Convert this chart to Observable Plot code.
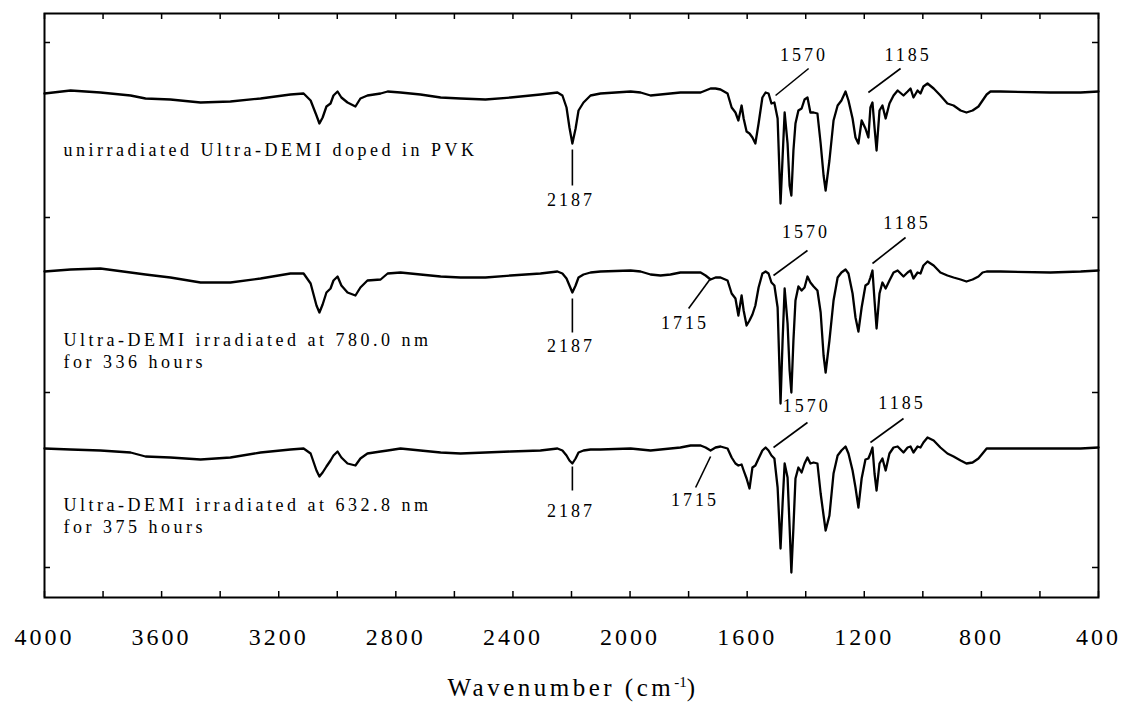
<!DOCTYPE html>
<html><head><meta charset="utf-8">
<script src="https://cdn.jsdelivr.net/npm/d3@7"></script>
<script src="https://cdn.jsdelivr.net/npm/@observablehq/plot@0.6"></script>
<style>
body{margin:0;background:#fff;position:relative;width:1126px;height:710px;overflow:hidden;}
#chart svg{display:block;}
g[aria-label="x-axis tick label"] text{letter-spacing:3px;}
#xtitle{position:absolute;left:0;width:1146px;top:674px;text-align:center;font-family:"Liberation Serif",serif;font-size:25px;letter-spacing:3.5px;color:#000;}
#xtitle sup{font-size:15px;letter-spacing:0;}
</style>
</head><body>
<div id="chart"></div>
<div id="xtitle">Wavenumber (cm<sup>-1</sup>)</div>
<script>
// Wavenumber grid (cm-1), shared by all three spectra
const wavenumber = [4000,3911,3809,3706,3655,3570,3467,3365,3262,3160,
3115,3091,3071,3061,3050,3037,3023,3013,2999,2986,
2965,2938,2921,2897,2852,2828,2784,2716,2647,2579,
2494,2408,2306,2248,2231,2217,2207,2197,2186,2176,
2159,2135,2101,1998,1964,1930,1896,1862,1828,1793,
1759,1742,1725,1708,1691,1667,1653,1640,1630,1619,
1612,1602,1592,1582,1572,1561,1548,1537,1527,1517,
1507,1496,1486,1479,1472,1462,1455,1449,1442,1435,
1425,1414,1404,1394,1384,1373,1360,1349,1339,1332,
1319,1305,1291,1278,1264,1254,1240,1230,1220,1209,
1196,1186,1179,1172,1165,1158,1148,1138,1127,1114,
1100,1086,1066,1052,1042,1032,1018,1008,998,984,
963,940,916,895,871,851,830,810,796,782,
769,735,564,461,400];

// Transmittance relative to each trace's baseline (arbitrary units)
const unirradiated = [-1,2,0,-3,-6,-7,-10,-9,-6,-2,
-1,-8,-23,-31,-25,-14,-11,-3,1,-5,
-10,-14,-6,-3,-1,1,0,-2,-5,-6,
-7,-5,-2,0,-3,-15,-35,-51,-36,-18,
-10,-3,-1,1,0,-3,-2,-1,0,0,
0,2,4,4,3,-1,-15,-20,-28,-13,
-26,-39,-41,-45,-51,-31,-5,0,-1,-11,
-10,-26,-111,-65,-20,-51,-93,-103,-58,-31,
-18,-16,-7,-5,-20,-20,-21,-51,-83,-98,
-68,-28,-13,-8,1,-8,-26,-45,-51,-28,
-36,-45,-15,-10,-35,-58,-18,-13,-26,-11,
-3,2,-3,1,4,-5,2,-1,6,9,
4,-3,-11,-13,-18,-20,-18,-14,-8,-2,
1,1,0,0,1];

const irradiated780 = [0,2,3,-1,-3,-6,-11,-11,-7,-2,
-2,-12,-34,-41,-33,-21,-17,-9,-5,-14,
-21,-24,-16,-9,-8,-2,-1,-3,-5,-6,
-6,-4,-2,0,-2,-7,-14,-21,-14,-6,
-3,-1,0,1,0,-3,-4,-3,-1,-1,
-1,-4,-8,-6,-6,-9,-22,-27,-44,-24,
-39,-54,-49,-43,-34,-16,-2,0,-2,-11,
-14,-36,-132,-69,-17,-52,-99,-121,-69,-29,
-15,-19,-16,-5,-11,-15,-19,-41,-84,-101,
-69,-29,-6,-1,2,-2,-22,-46,-60,-36,
-14,-12,-6,1,-29,-57,-22,-11,-17,-9,
-1,1,-5,-1,1,-7,-1,-2,6,10,
6,-1,-4,-6,-8,-10,-8,-5,-1,0,
0,0,-1,0,1];

const irradiated632 = [0,-1,-2,-4,-8,-9,-11,-9,-4,-1,
0,-5,-22,-28,-24,-18,-12,-7,-3,-9,
-15,-17,-10,-5,-3,-2,0,-2,-4,-5,
-4,-3,-2,0,-2,-7,-12,-15,-10,-4,
-2,-1,-1,0,-1,-2,-1,0,1,3,
3,1,-2,1,2,0,-9,-15,-17,-16,
-22,-30,-40,-19,-17,-10,-2,1,-2,-7,
-10,-39,-100,-55,-15,-29,-79,-124,-79,-30,
-19,-24,-15,-9,-15,-14,-15,-45,-67,-82,
-67,-25,-7,-2,2,-5,-22,-39,-59,-30,
-11,-10,-5,1,-25,-42,-15,-10,-22,-5,
1,2,-4,1,2,-4,2,1,6,11,
8,1,-5,-8,-12,-15,-14,-10,-5,0,
0,0,0,0,1];

const seriesNames = ["unirradiated", "780.0 nm, 336 h", "632.8 nm, 375 h"];
const seriesOffsets = [475, 296, 119];

// Series labels
const seriesLabelText = ["unirradiated Ultra-DEMI doped in PVK", "Ultra-DEMI irradiated at 780.0 nm", "for 336 hours", "Ultra-DEMI irradiated at 632.8 nm", "for 375 hours"];
const seriesLabelX = [3935, 3935, 3935, 3935, 3935];
const seriesLabelY = [417, 227, 205, 62, 40];

// Peak annotations
const peakText = ["2187","1570","1185","2187","1715","1570","1185","2187","1715","1570","1185"];
const leaderX1 = [2197,1503,1186, 2197,1725,1510,1172, 2197,1725,1510,1179];
const leaderY1 = [418,472,475, 269,289,292,304, 101,111,120,125];
const leaderX2 = [2197,1390,1076, 2197,1800,1394,1059, 2197,1776,1394,1066];
const leaderY2 = [382,499,499, 235,259,317,330, 77,80,145,149];
const peakLabelX = [2197,1401,1045, 2197,1807,1394,1049, 2197,1773,1391,1066];
const peakLabelY = [367,512,512, 221,244,335,344, 56,67,161,164];

// Axis ticks
const xTickLabels = [4000,3600,3200,2800,2400,2000,1600,1200,800,400];
const xMinorTicks = d3.range(400, 4001, 200);
const yTicks = [0, 175, 350, 525];

const seriesValues = [unirradiated, irradiated780, irradiated632];
const spectra = [];
seriesValues.forEach((vals, k) => vals.forEach((v, i) => spectra.push({wn: wavenumber[i], t: seriesOffsets[k] + v, series: seriesNames[k]})));
const leaders = peakText.map((t, i) => ({x1: leaderX1[i], y1: leaderY1[i], x2: leaderX2[i], y2: leaderY2[i]}));
const peakLabels = peakText.map((t, i) => ({text: t, x: peakLabelX[i], y: peakLabelY[i]}));
const seriesLabels = seriesLabelText.map((t, i) => ({text: t, x: seriesLabelX[i], y: seriesLabelY[i]}));

const W = 1126, H = 660;
const mt = 13, mb = 63, ml = 44, mr = 28;
const fh = H - mt - mb, fw = W - ml - mr;
const font = "Liberation Serif";

const chart = Plot.plot({
  width: W, height: H,
  marginTop: mt, marginBottom: mb, marginLeft: ml, marginRight: mr,
  style: {fontFamily: font, color: "#000", background: "#fff"},
  x: {domain: [4000, 400]},
  y: {domain: [-30, 554], axis: null},
  marks: [
    Plot.frame({stroke: "#000", strokeWidth: 2}),
    Plot.tickX(xMinorTicks, {x: d => d, stroke: "#000", strokeWidth: 1.5, insetTop: fh - 6}),
    Plot.tickX(xMinorTicks, {x: d => d, stroke: "#000", strokeWidth: 1.5, insetBottom: fh - 6}),
    Plot.tickY(yTicks, {y: d => d, stroke: "#000", strokeWidth: 1.5, insetRight: fw - 6}),
    Plot.tickY(yTicks, {y: d => d, stroke: "#000", strokeWidth: 1.5, insetLeft: fw - 6}),
    Plot.axisX({ticks: xTickLabels, tickSize: 0, tickPadding: 30, tickFormat: d => String(d), fontSize: 24, fontFamily: font, label: null}),
    Plot.line(spectra, {x: "wn", y: "t", z: "series", stroke: "#000", strokeWidth: 2.3, strokeLinejoin: "round"}),
    Plot.link(leaders, {x1: "x1", y1: "y1", x2: "x2", y2: "y2", stroke: "#000", strokeWidth: 1.6}),
    Plot.text(peakLabels, {x: "x", y: "y", text: "text", fontSize: 18, fontFamily: font, fill: "#000", dx: -1.5}),
    Plot.text(seriesLabels, {x: "x", y: "y", text: "text", fontSize: 18, fontFamily: font, fill: "#000", textAnchor: "start"})
  ]
});
const textGroups = d3.select(chart).selectAll('g[aria-label="text"]').nodes();
if (textGroups[0]) d3.select(textGroups[0]).selectAll("text").style("letter-spacing", "3px");
if (textGroups[1]) d3.select(textGroups[1]).selectAll("text").style("letter-spacing", "3.5px");
document.getElementById("chart").appendChild(chart);
</script>
</body></html>
